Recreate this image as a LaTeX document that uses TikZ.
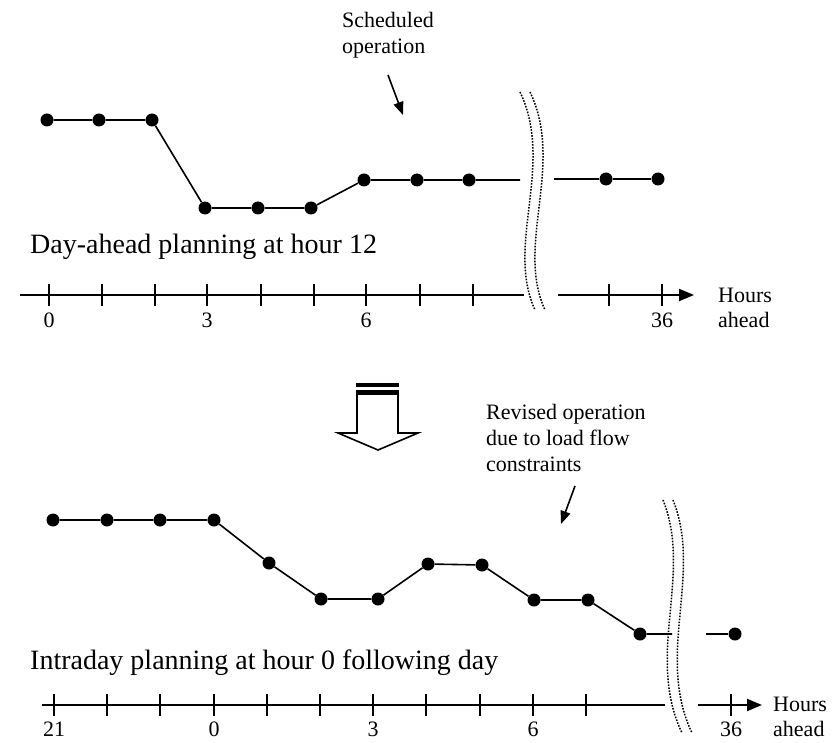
\documentclass[tikz,border=0pt]{standalone}
\usepackage{fontspec}
\setmainfont{Liberation Serif}
\usetikzlibrary{arrows.meta, positioning}

\begin{document}
\begin{tikzpicture}[x=1pt, y=-1pt,
	every node/.style={font=\fontsize{22}{26}\selectfont},
	dot/.style={circle, fill, inner sep=0pt, minimum size=13pt},
	profile/.style={line width=1.6pt},
	axis/.style={line width=2pt},
	axisarrow/.style={line width=2pt, -{Triangle[length=15pt, width=12pt]}},
	tick/.style={line width=2pt},
	cut/.style={line width=1.5pt, dash pattern=on 1.6pt off 1.4pt},
	note/.style={align=left, anchor=west, inner sep=0pt},
	pointer/.style={line width=1.6pt, -{Triangle[length=13pt, width=10pt]}},
	title/.style={font=\fontsize{28}{32}\selectfont, anchor=west, inner sep=0pt},
	lbl/.style={inner sep=0pt}
	]
	\useasboundingbox (0,0) rectangle (840,743);
	
	% Day-ahead profile
	\foreach \n/\x/\y in {1/47/120, 2/99/120, 3/152/120, 4/205/208, 5/258/208, 6/311/208, 7/364/180, 8/417/180, 9/469/180}
		\node[dot] (d\n) at (\x,\y) {};
	\node[dot] (r1) at (606,179) {};
	\node[dot] (r2) at (658,179) {};
	\coordinate (e1) at (520,180);
	\coordinate (e2) at (554,179);
	\draw[profile] (d1) -- (d2) -- (d3) -- (d4) -- (d5) -- (d6) -- (d7) -- (d8) -- (d9) -- (e1);
	\draw[profile] (e2) -- (r1) -- (r2);
	
	% Day-ahead axis
	\coordinate (a0) at (20,295);
	\coordinate (a1) at (524,295);
	\coordinate (a2) at (558,295);
	\coordinate (a3) at (694,295);
	\draw[axis] (a0) -- (a1);
	\draw[axisarrow] (a2) -- (a3);
	\foreach \x in {49,102,155,207,261,314,366,420,473,609,662}
		\draw[tick] (\x,284) -- (\x,306);
	\node[lbl] (h0) at (49,320) {0};
	\node[lbl] (h3) at (207,320) {3};
	\node[lbl] (h6) at (366,320) {6};
	\node[lbl] (h36) at (662,320) {36};
	\node[lbl, anchor=west] (hrs) at (718,295) {Hours};
	\node[lbl, anchor=west] (ahd) at (718,320) {ahead};
	\node[title] (dayahead) at (30,247) {Day-ahead planning at hour 12};
	
	% Labels
	\node[note] (sched) at (342,35) {Scheduled\\operation};
	\coordinate (p1) at (388,75);
	\coordinate (p2) at (403,115);
	\draw[pointer] (p1) -- (p2);
	
	% Breaks
	\foreach \s in {0,10} {
		\draw[cut, xshift=\s pt] (520,92) .. controls (555,165) and (505,245) .. (535,310);
		\draw[cut, xshift=\s pt] (663,500) .. controls (693,575) and (645,655) .. (682,733);
	}
	
	% Hollow arrow
	\draw[line width=1.6pt, fill=white] (357,394) -- (398,394) -- (398,433) -- (418,433) -- (378,450) -- (338,433) -- (357,433) -- cycle;
	\fill (356,383) rectangle (399,387);
	\fill (356,389.5) rectangle (399,394.5);
	
	% Intraday profile
	\foreach \n/\x/\y in {1/53/520, 2/107/520, 3/160/520, 4/214/520, 5/269/563, 6/321/599, 7/378/599, 8/428/564, 9/482/565, 10/534/600, 11/588/600, 12/640/634}
		\node[dot] (i\n) at (\x,\y) {};
	\node[dot] (j1) at (735,634) {};
	\coordinate (f1) at (672,634);
	\coordinate (f2) at (706,634);
	\draw[profile] (i1) -- (i2) -- (i3) -- (i4) -- (i5) -- (i6) -- (i7) -- (i8) -- (i9) -- (i10) -- (i11) -- (i12) -- (f1);
	\draw[profile] (f2) -- (j1);
	
	\node[note] (revised) at (486,438) {Revised operation\\due to load flow\\constraints};
	\coordinate (q1) at (575,486);
	\coordinate (q2) at (561,524);
	\draw[pointer] (q1) -- (q2);
	
	% Intraday axis
	\coordinate (b0) at (42,705);
	\coordinate (b1) at (665,705);
	\coordinate (b2) at (698,705);
	\coordinate (b3) at (762,705);
	\draw[axis] (b0) -- (b1);
	\draw[axisarrow] (b2) -- (b3);
	\foreach \i in {0,...,10}
		\draw[tick] ({54+53.2*\i},694) -- ({54+53.2*\i},716);
	\draw[tick] (731,694) -- (731,716);
	\node[lbl] (k21) at (54,729) {21};
	\node[lbl] (k0) at (214,729) {0};
	\node[lbl] (k3) at (373,729) {3};
	\node[lbl] (k6) at (533,729) {6};
	\node[lbl] (k36) at (731,729) {36};
	\node[lbl, anchor=west] (hrs2) at (773,704) {Hours};
	\node[lbl, anchor=west] (ahd2) at (773,729) {ahead};
	\node[title] (intraday) at (30,663) {Intraday planning at hour 0 following day};
\end{tikzpicture}
\end{document}
